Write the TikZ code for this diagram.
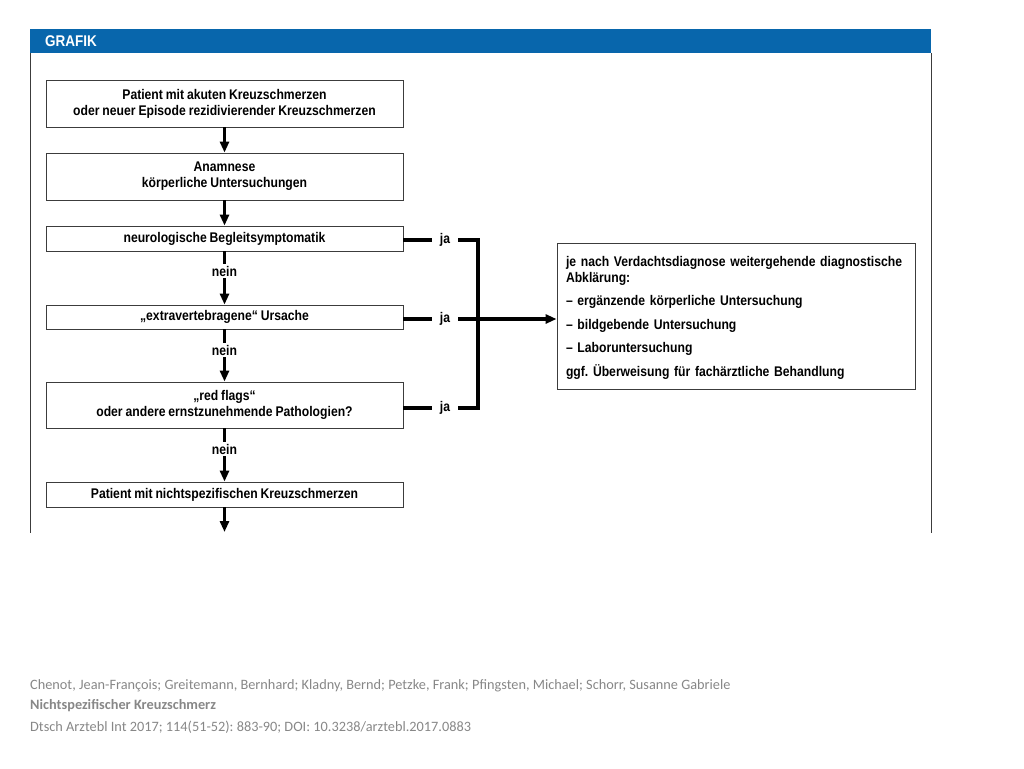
\documentclass[tikz,border=0pt]{standalone}
\usepackage{fontspec}
\setmainfont{Liberation Sans}[FakeStretch=0.87,WordSpace=0.85]
\newfontfamily\footfont{Carlito}
\usetikzlibrary{arrows.meta}
\definecolor{hdrblue}{RGB}{8,102,172}
\definecolor{footgray}{RGB}{135,135,135}
\definecolor{boxline}{RGB}{60,60,60}
\frenchspacing
\begin{document}
\begin{tikzpicture}[x=1pt,y=-1pt,
  flowbox/.style={draw=boxline,line width=0.9pt,minimum width=357pt,inner sep=0pt,align=center,font=\fontsize{14}{16}\selectfont\bfseries},
  thickline/.style={line width=3.2pt,black},
  flowarrow/.style={line width=3.2pt,black,-{Triangle[width=9pt,length=11pt]}},
  lbl/.style={inner xsep=8pt,inner ysep=2pt,font=\fontsize{14}{16}\selectfont\bfseries},
  foot/.style={anchor=west,inner sep=0pt,text=footgray,font=\footfont\fontsize{14.3}{16}\selectfont}]
\useasboundingbox (0,0) rectangle (1024,768);
% header and frame
\fill[hdrblue] (30,29) rectangle (931,53);
\node[anchor=west,text=white,inner sep=0pt,font=\fontsize{15.5}{17}\selectfont\bfseries] (hdr) at (45,41) {GRAFIK};
\draw[boxline,line width=1pt] (30,53) -- (30,533);
\draw[boxline,line width=1pt] (931,53) -- (931,533);
% flow boxes
\node[flowbox,minimum height=47pt] (b1) at (224.5,103.5) {Patient mit akuten Kreuzschmerzen\\oder neuer Episode rezidivierender Kreuzschmerzen};
\node[flowbox,minimum height=47pt] (b2) at (224.5,176.5) {Anamnese\\körperliche Untersuchungen};
\node[flowbox,minimum height=25pt] (b3) at (224.5,238.5) {neurologische Begleitsymptomatik};
\node[flowbox,minimum height=24pt] (b4) at (224.5,317) {„extravertebragene“ Ursache};
\node[flowbox,minimum height=46pt] (b5) at (224.5,405) {„red flags“\\oder andere ernstzunehmende Pathologien?};
\node[flowbox,minimum height=25pt] (b6) at (224.5,494.5) {Patient mit nichtspezifischen Kreuzschmerzen};
\coordinate (end) at (224.5,532);
% nein labels
\node[lbl] (n1) at (224.5,271) {nein};
\node[lbl] (n2) at (224.5,350) {nein};
\node[lbl] (n3) at (224.5,449) {nein};
% ja labels
\node[lbl] (j1) at (445,240) {ja};
\node[lbl] (j2) at (445,319) {ja};
\node[lbl] (j3) at (445,408) {ja};
\coordinate (brTop) at (478,240);
\coordinate (brMid) at (478,319);
\coordinate (brBot) at (478,408);
% right box
\node[draw=boxline,line width=0.9pt,minimum width=358pt,minimum height=146pt,text width=340pt,inner xsep=9pt,inner ysep=0pt,align=left,font=\fontsize{14}{15.5}\selectfont\bfseries] (rb) at (736,316)
{\rule{0pt}{14pt}je nach Verdachtsdiagnose weitergehende diagnostische\\Abklärung:\\[8pt]
– ergänzende körperliche Untersuchung\\[8pt]
– bildgebende Untersuchung\\[8pt]
– Laboruntersuchung\\[8pt]
ggf. Überweisung für fachärztliche Behandlung};
% vertical connectors
\draw[flowarrow] (b1.south) -- (b2.north);
\draw[flowarrow] (b2.south) -- (b3.north);
\draw[thickline] (b3.south) -- (n1.north);
\draw[flowarrow] (n1.south) -- (b4.north);
\draw[thickline] (b4.south) -- (n2.north);
\draw[flowarrow] (n2.south) -- (b5.north);
\draw[thickline] (b5.south) -- (n3.north);
\draw[flowarrow] (n3.south) -- (b6.north);
\draw[flowarrow] (b6.south) -- (end);
% ja connectors
\draw[thickline] (b3.east |- j1) -- (j1.west);
\draw[thickline] (b4.east |- j2) -- (j2.west);
\draw[thickline] (b5.east |- j3) -- (j3.west);
\draw[thickline] (j1.east) -- (brTop) -- (brBot) -- (j3.east);
\draw[thickline] (j2.east) -- (brMid);
\draw[flowarrow] (brMid) -- (rb.west |- brMid);
% footer
\node[foot] (f1) at (30,686) {Chenot, Jean-François; Greitemann, Bernhard; Kladny, Bernd; Petzke, Frank; Pfingsten, Michael; Schorr, Susanne Gabriele};
\node[foot,font=\footfont\bfseries\fontsize{14.3}{16}\selectfont] (f2) at (30,706) {Nichtspezifischer Kreuzschmerz};
\node[foot] (f3) at (30,727) {Dtsch Arztebl Int 2017; 114(51-52): 883-90; DOI: 10.3238/arztebl.2017.0883};
\end{tikzpicture}
\end{document}
